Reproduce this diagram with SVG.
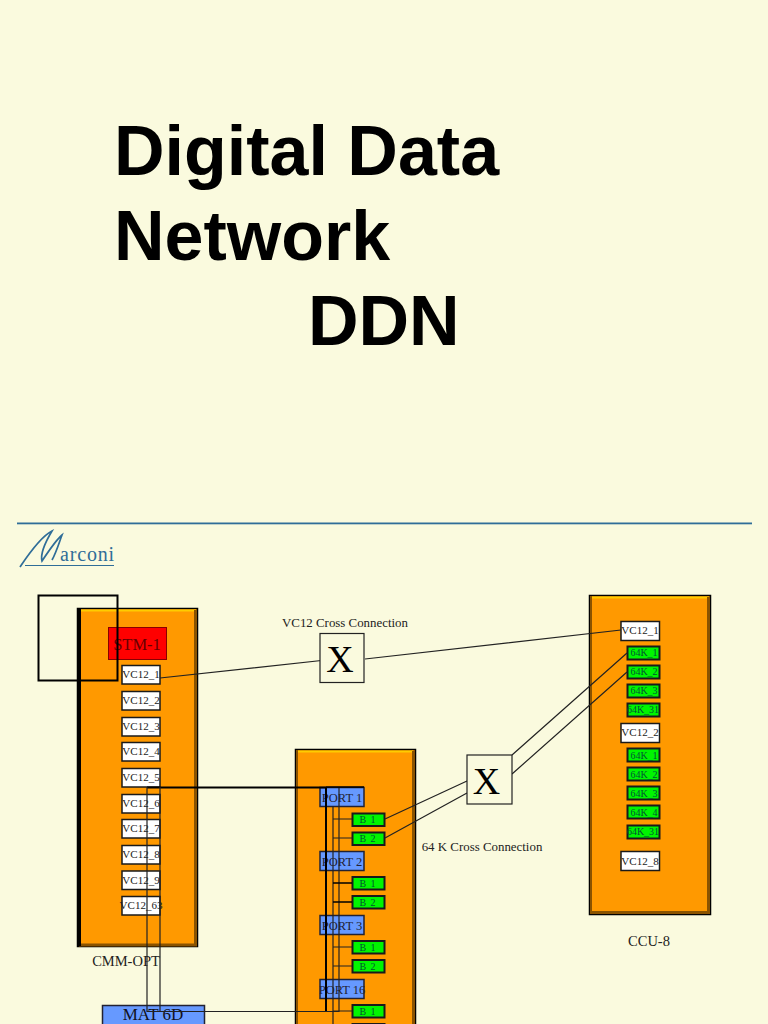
<svg xmlns="http://www.w3.org/2000/svg" width="768" height="1024" viewBox="0 0 768 1024">
<defs>
<style>
text{font-family:"Liberation Serif","Times New Roman",serif;fill:#222;text-anchor:middle}
.title{font-family:"Liberation Sans",Arial,sans-serif;font-weight:700;font-size:70px;fill:#000;text-anchor:start}
.panel{fill:#ff9900;stroke:#000;stroke-width:1.5}
.hi{fill:none;stroke:#ffcc00;stroke-width:2}
.lo{fill:none;stroke:#8a5300;stroke-width:3}
.vc{fill:#fff;stroke:#1a1a1a;stroke-width:1.5}
.vt{font-size:11px}
.k{fill:#00f500;stroke:#1a1a1a;stroke-width:2}
.kt{font-size:10px;fill:#053}
.bt{font-size:10px;letter-spacing:1px;fill:#053}
.port{fill:#6699ff;stroke:#223;stroke-width:1.5}
.pt{font-size:12.500px;fill:#223}
.x{fill:#fafade;stroke:#222;stroke-width:1.2}
.xt{font-size:38px;fill:#000}
.lab{font-size:12.900px}
.c{fill:none;stroke:#222;stroke-width:1.2}
.t{fill:none;stroke:#000;stroke-width:2}
</style>
</defs>
<rect width="768" height="1024" fill="#fafade"/>
<text class="title" x="114" y="175">Digital Data</text>
<text class="title" x="114" y="260">Network</text>
<text class="title" x="308" y="345">DDN</text>
<rect x="17" y="522.500" width="735" height="1.800" fill="#2f6d98"/>
<g id="logo">
<path d="M20 567C30 552 42 536 52 531C46 541 40 553 42 561C50 549 57 539 62 535C59 543 56 553 52 560" fill="none" stroke="#2f6d98" stroke-width="1.700"/>
<path d="M25 565.500H114" stroke="#2f6d98" stroke-width="1.200"/>
<text x="87.500" y="561" style="font-size:20px;fill:#2f6d98;letter-spacing:.8px">arconi</text>
</g>
<g id="cmm-opt">
<rect class="panel" x="77.500" y="608.500" width="120" height="338"/>
<path class="hi" d="M79 610.500H196"/>
<path class="lo" d="M195.500 610V945M79 945H197"/>
<path d="M79.500 609V946" stroke="#000" stroke-width="3"/>
<text x="126" y="966" style="font-size:14.500px">CMM-OPT</text>
</g>
<g id="stm-1"><rect x="108.500" y="627.500" width="58" height="32" fill="#ff0000" stroke="#800" stroke-width="1"/><text x="137" y="650" style="font-size:16.500px;fill:#600">STM-1</text></g>
<g id="l1"><rect class="vc" x="122" y="665.500" width="38" height="18.500"/><text class="vt" x="141" y="678">VC12_1</text></g>
<g id="l2"><rect class="vc" x="122" y="691.500" width="38" height="18.500"/><text class="vt" x="141" y="704">VC12_2</text></g>
<g id="l3"><rect class="vc" x="122" y="717.500" width="38" height="18.500"/><text class="vt" x="141" y="730">VC12_3</text></g>
<g id="l4"><rect class="vc" x="122" y="742.500" width="38" height="18.500"/><text class="vt" x="141" y="755">VC12_4</text></g>
<g id="l5"><rect class="vc" x="122" y="768.500" width="38" height="18.500"/><text class="vt" x="141" y="781">VC12_5</text></g>
<g id="l6"><rect class="vc" x="122" y="794.500" width="38" height="18.500"/><text class="vt" x="141" y="807">VC12_6</text></g>
<g id="l7"><rect class="vc" x="122" y="819.500" width="38" height="18.500"/><text class="vt" x="141" y="832">VC12_7</text></g>
<g id="l8"><rect class="vc" x="122" y="845.500" width="38" height="18.500"/><text class="vt" x="141" y="858">VC12_8</text></g>
<g id="l9"><rect class="vc" x="122" y="871" width="38" height="18.500"/><text class="vt" x="141" y="884">VC12_9</text></g>
<g id="l63"><rect class="vc" x="122" y="896.500" width="38" height="18.500"/><text class="vt" x="141" y="909">VC12_63</text></g>
<g id="ccu-8">
<rect class="panel" x="589.500" y="595.500" width="121" height="319"/>
<path class="hi" d="M591 597.500H709"/>
<path class="lo" d="M708.500 597V913M591 912.500H710"/>
<path d="M591 596V914" stroke="#8a5300" stroke-width="2"/>
<text x="649" y="946" style="font-size:14.500px">CCU-8</text>
</g>
<g id="r1"><rect class="vc" x="621" y="621.500" width="38.500" height="19"/><text class="vt" x="640" y="634">VC12_1</text></g>
<g id="r2"><rect class="k" x="627.500" y="646.500" width="32" height="13"/><text class="kt" x="644" y="656">64K_1</text></g>
<g id="r3"><rect class="k" x="627.500" y="665.500" width="32" height="13"/><text class="kt" x="644" y="675">64K_2</text></g>
<g id="r4"><rect class="k" x="627.500" y="684.500" width="32" height="13"/><text class="kt" x="644" y="694">64K_3</text></g>
<g id="r5"><rect class="k" x="627.500" y="703.500" width="32" height="13"/><text class="kt" x="643" y="713">64K_31</text></g>
<g id="r6"><rect class="vc" x="621" y="723.500" width="38.500" height="19"/><text class="vt" x="640" y="736">VC12_2</text></g>
<g id="r7"><rect class="k" x="627.500" y="748.500" width="32" height="13"/><text class="kt" x="644" y="759">64K_1</text></g>
<g id="r8"><rect class="k" x="627.500" y="767.500" width="32" height="13"/><text class="kt" x="644" y="778">64K_2</text></g>
<g id="r9"><rect class="k" x="627.500" y="786.500" width="32" height="13"/><text class="kt" x="644" y="797">64K_3</text></g>
<g id="r10"><rect class="k" x="627.500" y="805.500" width="32" height="13"/><text class="kt" x="644" y="816">64K_4</text></g>
<g id="r11"><rect class="k" x="627.500" y="825.500" width="32" height="13"/><text class="kt" x="643" y="835">64K_31</text></g>
<g id="r12"><rect class="vc" x="621" y="851.500" width="38.500" height="19"/><text class="vt" x="640" y="865">VC12_8</text></g>
<g id="mid-panel">
<rect class="panel" x="295.500" y="749.500" width="120" height="290"/>
<path class="hi" d="M297 751.500H413"/>
<path class="lo" d="M413.500 751V1024"/>
<path d="M297 750V1024" stroke="#8a5300" stroke-width="2"/>
</g>
<g id="port1"><rect class="port" x="320" y="787.500" width="44" height="19"/><text class="pt" x="342" y="802">PORT 1</text></g>
<g id="port2"><rect class="port" x="320" y="851.500" width="44" height="19"/><text class="pt" x="342" y="866">PORT 2</text></g>
<g id="port3"><rect class="port" x="320" y="915.500" width="44" height="19"/><text class="pt" x="342" y="930">PORT 3</text></g>
<g id="port16"><rect class="port" x="320" y="979.500" width="44" height="19"/><text class="pt" x="342" y="994">PORT 16</text></g>
<g id="b11"><rect class="k" x="352.500" y="813.500" width="32" height="12.500"/><text class="bt" x="368" y="823">B 1</text></g>
<g id="b12"><rect class="k" x="352.500" y="832.500" width="32" height="12.500"/><text class="bt" x="368" y="842">B 2</text></g>
<g id="b21"><rect class="k" x="352.500" y="877" width="32" height="12.500"/><text class="bt" x="368" y="887">B 1</text></g>
<g id="b22"><rect class="k" x="352.500" y="896" width="32" height="12.500"/><text class="bt" x="368" y="906">B 2</text></g>
<g id="b31"><rect class="k" x="352.500" y="941" width="32" height="12.500"/><text class="bt" x="368" y="951">B 1</text></g>
<g id="b32"><rect class="k" x="352.500" y="960" width="32" height="12.500"/><text class="bt" x="368" y="970">B 2</text></g>
<g id="b161"><rect class="k" x="352.500" y="1005" width="32" height="12.500"/><text class="bt" x="368" y="1015">B 1</text></g>
<g id="b162"><rect class="k" x="352.500" y="1024" width="32" height="12.500"/></g>
<g id="mat6d"><rect class="port" x="102.500" y="1005.500" width="102" height="40"/><text x="153" y="1020" style="font-size:17px;fill:#112">MAT 6D</text></g>
<g id="connectors">
<path class="t" d="M38.500 595.500H117.500V680.500H38.500Z"/>
<path class="c" d="M160 678L326 660M365 659L621 630M385 819L467 781M385 838L467 793M512 755L627 653M512 774L627 672"/>
<path class="t" d="M147 787.500H326M326 787V1011"/>
<path class="c" d="M147 787V1011.500H339V787M160 787V1011.500"/>
<path class="c" d="M333 806V1024M333 819H352M333 838H352M333 947H352M333 966H352M333 1011H352"/>
<path class="t" style="stroke-width:1.500" d="M333 883H352M333 902H352M326 787H364"/>
</g>
<g id="x1"><rect class="x" x="320" y="633.500" width="44" height="49"/><text class="xt" x="340" y="672">X</text></g>
<g id="x2"><rect class="x" x="467" y="755" width="45" height="49"/><text class="xt" x="486.500" y="794">X</text></g>
<text class="lab" x="345" y="627">VC12 Cross Connection</text>
<text class="lab" x="482" y="851">64 K Cross Connection</text>
</svg>
